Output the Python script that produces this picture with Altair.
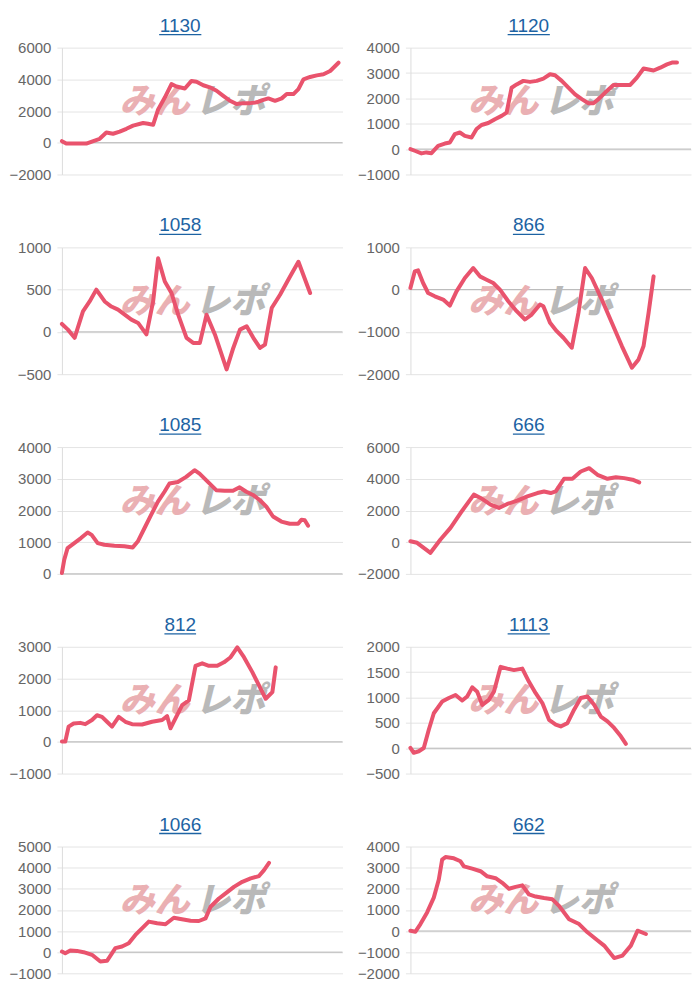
import altair as alt
import pandas as pd

FONT = "Liberation Sans"
LINE_COLOR = "#e9536d"
TITLE_COLOR = "#1d63a3"
W, H = 281, 127

titles = ["1130", "1120", "1058", "866", "1085", "666", "812", "1113", "1066", "662"]

y_domains = [[-2000, 6000], [-1000, 4000], [-500, 1000], [-2000, 1000], [0, 4000],
             [-2000, 6000], [-1000, 3000], [-500, 2000], [-1000, 5000], [-2000, 4000]]
y_ticks = [[-2000, 0, 2000, 4000, 6000],
           [-1000, 0, 1000, 2000, 3000, 4000],
           [-500, 0, 500, 1000],
           [-2000, -1000, 0, 1000],
           [0, 1000, 2000, 3000, 4000],
           [-2000, 0, 2000, 4000, 6000],
           [-1000, 0, 1000, 2000, 3000],
           [-500, 0, 500, 1000, 1500, 2000],
           [-1000, 0, 1000, 2000, 3000, 4000, 5000],
           [-2000, -1000, 0, 1000, 2000, 3000, 4000]]

x_1130 = [0, 13, 73, 113, 133, 153, 173, 193, 213, 243, 258, 273, 288, 308, 328, 343, 368, 388, 403, 423,
          443, 463, 483, 503, 523, 543, 563, 583, 603, 618, 638, 658, 673, 693, 708, 723, 743, 763, 783, 803, 828]
y_1130 = [100, -50, -50, 250, 650, 570, 700, 880, 1080, 1250, 1200, 1130, 2100, 2850, 3700, 3550, 3420, 3900,
          3850, 3630, 3500, 3280, 2960, 2650, 2440, 2500, 2500, 2550, 2700, 2800, 2650, 2800, 3070, 3070, 3380,
          4000, 4150, 4250, 4320, 4530, 5050]

x_1120 = [0, 13, 33, 48, 63, 83, 103, 118, 133, 148, 163, 183, 198, 213, 233, 253, 273, 288, 303, 318, 338, 358,
          378, 398, 418, 433, 453, 473, 493, 513, 533, 548, 563, 583, 608, 633, 658, 678, 698, 713, 728, 748, 768,
          783, 798]
y_1120 = [0, -65, -170, -130, -160, 130, 220, 260, 590, 655, 520, 460, 790, 950, 1030, 1180, 1310, 1440, 2420,
          2550, 2690, 2650, 2690, 2780, 2950, 2910, 2690, 2420, 2160, 1970, 1810, 1810, 1970, 2230, 2530, 2530,
          2530, 2820, 3180, 3140, 3100, 3210, 3340, 3410, 3410]

x_1058 = [0, 18, 38, 63, 83, 103, 128, 148, 168, 188, 208, 228, 253, 273, 288, 308, 328, 348, 373, 393, 413, 433,
          458, 493, 513, 533, 553, 573, 593, 608, 628, 653, 683, 708, 743]
y_1058 = [94, 27, -70, 243, 360, 500, 360, 300, 263, 204, 145, 106, -30, 360, 870, 596, 460, 204, -70, -130,
          -130, 204, -30, -443, -190, 27, 67, -70, -190, -150, 282, 440, 655, 830, 460]

x_866 = [0, 13, 23, 38, 53, 73, 98, 118, 138, 163, 188, 208, 228, 248, 268, 293, 318, 343, 363, 388, 398, 418,
         438, 458, 483, 503, 523, 543, 573, 603, 633, 663, 683, 698, 713, 728]
y_866 = [40, 430, 455, 157, -80, -157, -235, -377, -40, 275, 510, 314, 235, 157, 0, -275, -510, -707, -590,
         -353, -393, -785, -982, -1139, -1375, -550, 510, 275, -235, -785, -1335, -1846, -1650, -1335, -550, 314]

x_1085 = [0, 7, 17, 37, 57, 77, 89, 107, 127, 157, 187, 212, 227, 247, 267, 287, 307, 322, 347, 372, 397, 412,
          437, 462, 487, 512, 532, 552, 572, 592, 612, 632, 657, 682, 707, 717, 727, 737]
y_1085 = [30, 450, 815, 970, 1130, 1305, 1230, 970, 920, 890, 870, 835, 1020, 1440, 1860, 2270, 2590, 2850,
          2900, 3060, 3270, 3160, 2900, 2640, 2620, 2620, 2730, 2590, 2490, 2330, 2120, 1810, 1650, 1580, 1580,
          1710, 1690, 1520]

x_666 = [0, 20, 60, 90, 120, 150, 190, 210, 240, 265, 290, 320, 350, 380, 400, 420, 435, 460, 485, 510, 535,
         560, 590, 615, 640, 665, 685]
y_666 = [60, -40, -670, 170, 900, 1840, 3000, 2790, 2370, 2160, 2410, 2620, 2890, 3100, 3200, 3100, 3200, 4000,
         4000, 4460, 4670, 4250, 4000, 4100, 4040, 3940, 3770]

x_812 = [0, 10, 20, 35, 55, 70, 90, 105, 120, 135, 150, 170, 190, 210, 240, 270, 300, 315, 325, 340, 360, 380,
         400, 420, 440, 465, 485, 505, 525, 545, 570, 590, 610, 630, 640]
y_812 = [10, 10, 480, 580, 600, 560, 690, 840, 790, 635, 480, 790, 635, 560, 550, 635, 690, 810, 430, 740, 1160,
         1310, 2400, 2480, 2400, 2400, 2510, 2670, 2980, 2670, 2200, 1780, 1360, 1570, 2350]

x_1113 = [0, 10, 25, 40, 55, 70, 95, 115, 135, 155, 170, 185, 200, 215, 235, 250, 270, 290, 310, 335, 355, 375,
          395, 415, 435, 450, 470, 490, 510, 530, 550, 570, 590, 610, 630, 645]
y_1113 = [5, -90, -60, 5, 365, 690, 920, 990, 1050, 940, 1020, 1200, 1115, 855, 955, 1115, 1605, 1570, 1540,
          1570, 1310, 1085, 890, 560, 465, 430, 495, 760, 990, 1020, 855, 625, 530, 400, 235, 85]

x_1066 = [0, 10, 25, 45, 65, 90, 115, 135, 160, 180, 200, 220, 245, 260, 285, 310, 335, 355, 385, 410, 430, 445,
          470, 490, 515, 540, 565, 590, 605, 620]
y_1066 = [30, -50, 80, 60, 0, -125, -440, -410, 190, 270, 420, 815, 1210, 1445, 1365, 1320, 1630, 1570, 1490,
          1475, 1600, 2150, 2540, 2780, 3090, 3330, 3490, 3600, 3880, 4220]

x_662 = [0, 15, 30, 50, 70, 85, 95, 105, 130, 150, 160, 185, 210, 230, 255, 275, 295, 315, 335, 355, 375, 400,
         425, 445, 475, 505, 530, 555, 580, 610, 635, 660, 680, 705]
y_662 = [15, -30, 330, 880, 1580, 2440, 3380, 3500, 3440, 3300, 3060, 2950, 2830, 2590, 2500, 2280, 2000, 2090,
         2160, 1730, 1630, 1560, 1500, 1190, 560, 330, -60, -375, -690, -1280, -1160, -690, 15, -140]

series_x = [x_1130, x_1120, x_1058, x_866, x_1085, x_666, x_812, x_1113, x_1066, x_662]
series_y = [y_1130, y_1120, y_1058, y_866, y_1085, y_666, y_812, y_1113, y_1066, y_662]


def panel(title, xs, ys, dom, ticks):
    df = pd.DataFrame({"step": xs, "value": ys})
    yscale = alt.Scale(domain=dom, nice=False, zero=False)
    xscale = alt.Scale(domain=[0, 840])
    yaxis = alt.Axis(values=ticks, title=None, format="d", labelFlush=False)

    zero = alt.Chart(pd.DataFrame({"value": [0]})).mark_rule(color="#b5b5b5", strokeWidth=1).encode(
        y=alt.Y("value:Q", scale=yscale, axis=yaxis)
    )
    one = pd.DataFrame({"a": ["みん"], "b": ["レポ"], "t": [title]})
    wm1 = alt.Chart(one).mark_text(
        align="right", baseline="middle", fontSize=35, fontWeight=900, fontStyle="italic",
        font="Noto Sans CJK JP", color="#eab0b3"
    ).encode(text="a:N", x=alt.value(W * 0.455), y=alt.value(H * 0.43))
    wm2 = alt.Chart(one).mark_text(
        align="left", baseline="middle", fontSize=35, fontWeight=900, fontStyle="italic",
        font="Noto Sans CJK JP", color="#b9b9b9"
    ).encode(text="b:N", x=alt.value(W * 0.475), y=alt.value(H * 0.43))
    line = alt.Chart(df).mark_line(
        color=LINE_COLOR, strokeWidth=4, strokeJoin="round", strokeCap="round"
    ).encode(
        x=alt.X("step:Q", scale=xscale, axis=None),
        y=alt.Y("value:Q", scale=yscale, axis=yaxis),
    )
    cx = W / 2 - 22
    ttl = alt.Chart(one).mark_text(
        align="center", baseline="alphabetic", fontSize=19, font=FONT, color=TITLE_COLOR
    ).encode(text="t:N", x=alt.value(cx), y=alt.value(-16))
    L = len(title) * 0.556 * 19
    uline = alt.Chart(one).mark_rule(color=TITLE_COLOR, strokeWidth=1.3).encode(
        x=alt.value(cx - L / 2), x2=alt.value(cx + L / 2), y=alt.value(-13)
    )
    return alt.layer(zero, wm1, wm2, line, ttl, uline).properties(width=W, height=H)


panels = [panel(titles[i], series_x[i], series_y[i], y_domains[i], y_ticks[i]) for i in range(10)]

chart = alt.concat(
    *panels, columns=2, bounds="flush", spacing=alt.RowColnumber(row=73, column=68)
).properties(
    padding={"left": 0, "top": 8, "right": 0, "bottom": 0}
).configure_view(stroke=None).configure_axis(
    grid=True, gridColor="#e4e4e4", domainColor="#dcdcdc", tickColor="#e4e4e4",
    tickSize=5, labelPadding=6, labelFontSize=15, labelColor="#666666", labelFont=FONT
)

chart.save("out.html", embed_options={"renderer": "svg", "actions": False})
